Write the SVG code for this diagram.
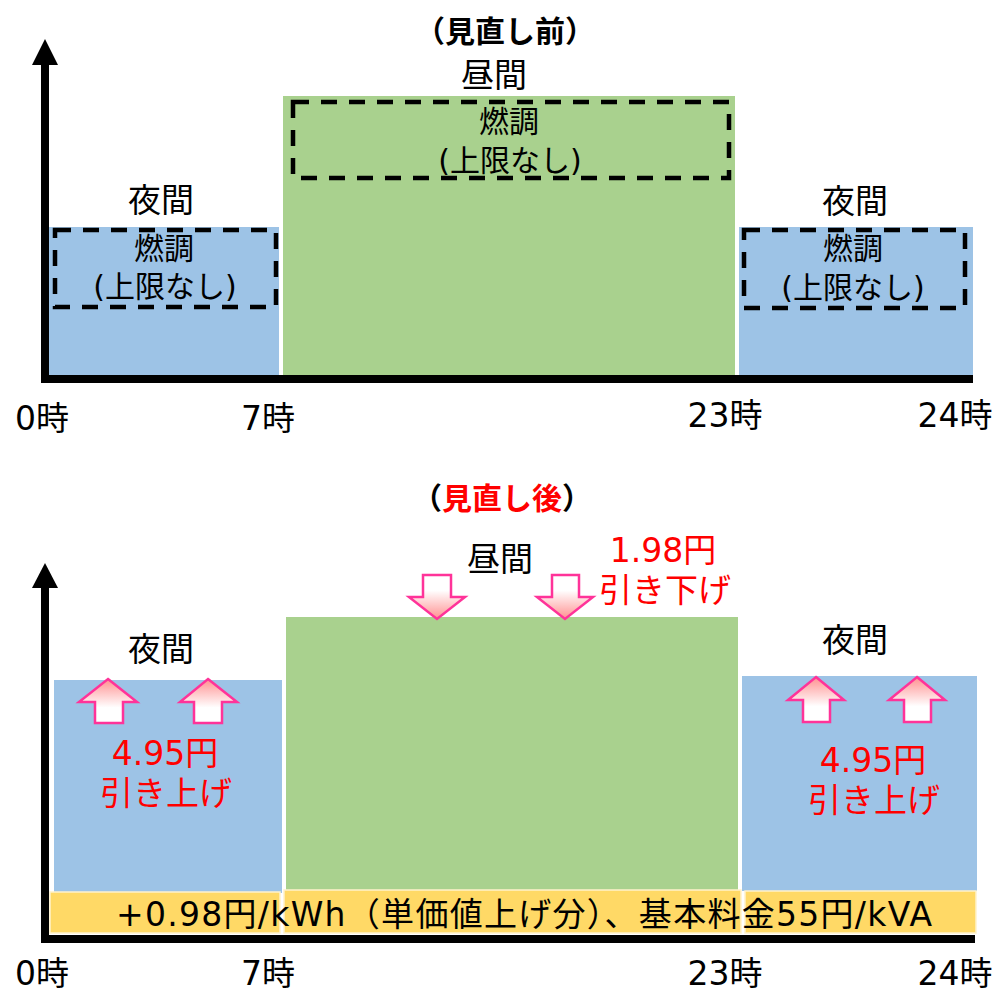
<svg xmlns="http://www.w3.org/2000/svg" width="995" height="994" viewBox="0 0 995 994">
<defs>
<style>
text{font-family:"DejaVu Sans","Noto Sans CJK JP",sans-serif;fill:#000;}
.lbl{font-size:33px;text-anchor:middle;}
.sm{font-size:30px;}
.red{fill:#FF0000;}
.ttl{font-size:30px;font-weight:bold;text-anchor:middle;}
.blue{fill:#9DC3E6;}
.green{fill:#A9D18E;}
.yel{fill:#FFD966;stroke:#FFF2CC;stroke-width:1.5;}
.dash{fill:none;stroke:#000;stroke-width:4.5;stroke-dasharray:16 12;}
.axis{stroke:#000;stroke-width:8;fill:none;}
.up{fill:url(#gUp);stroke:#FF3399;stroke-width:2.5;stroke-linejoin:miter;}
.down{fill:url(#gDown);stroke:#FF3399;stroke-width:2.5;stroke-linejoin:miter;}
</style>
<linearGradient id="gUp" x1="0" y1="0" x2="0" y2="1">
<stop offset="0" stop-color="#FF9090"/>
<stop offset="0.65" stop-color="#FFFFFF"/>
<stop offset="1" stop-color="#FFFFFF"/>
</linearGradient>
<linearGradient id="gDown" x1="0" y1="1" x2="0" y2="0">
<stop offset="0" stop-color="#FF9090"/>
<stop offset="0.65" stop-color="#FFFFFF"/>
<stop offset="1" stop-color="#FFFFFF"/>
</linearGradient>
</defs>
<rect width="995" height="994" fill="#FFFFFF"/>

<!-- Top chart -->
<g id="top-title"><text class="ttl" x="505" y="42">（見直し前）</text></g>
<g id="top-night-left">
<rect class="blue" x="49" y="227" width="230" height="149"/>
<rect class="dash" x="55" y="230" width="221" height="77"/>
<text class="lbl" x="161" y="212">夜間</text>
<text class="lbl sm" x="164" y="259">燃調</text>
<text class="lbl sm" x="165" y="297">(上限なし)</text>
</g>
<g id="top-day">
<rect class="green" x="283" y="96" width="452" height="280"/>
<rect class="dash" x="293" y="102" width="436" height="76"/>
<text class="lbl" x="494" y="87">昼間</text>
<text class="lbl sm" x="509" y="132">燃調</text>
<text class="lbl sm" x="510" y="171">(上限なし)</text>
</g>
<g id="top-night-right">
<rect class="blue" x="739" y="227" width="234" height="149"/>
<rect class="dash" x="744" y="230" width="221" height="78"/>
<text class="lbl" x="855" y="213">夜間</text>
<text class="lbl sm" x="853" y="259">燃調</text>
<text class="lbl sm" x="853" y="298">(上限なし)</text>
</g>
<g id="top-axes">
<line class="axis" x1="45" y1="62" x2="45" y2="383"/>
<polygon points="45,39 58,65 32,65" fill="#000"/>
<line class="axis" x1="41" y1="379" x2="973" y2="379"/>
</g>
<g id="top-ticks">
<text class="lbl" x="42" y="430">0時</text>
<text class="lbl" x="268" y="430">7時</text>
<text class="lbl" x="725" y="427">23時</text>
<text class="lbl" x="955" y="427">24時</text>
</g>

<!-- Bottom chart -->
<g id="bottom-title"><text class="ttl" x="502" y="509">（<tspan class="red">見直し後</tspan>）</text></g>
<g id="bottom-night-left">
<rect class="blue" x="54" y="680" width="228" height="213"/>
<text class="lbl" x="161" y="661">夜間</text>
<text class="lbl red" x="165" y="765">4.95円</text>
<text class="lbl red" x="166" y="805">引き上げ</text>
</g>
<g id="bottom-day">
<rect class="green" x="286" y="617" width="452" height="274"/>
<text class="lbl" x="500" y="571">昼間</text>
<text class="lbl red" x="663" y="562">1.98円</text>
<text class="lbl red" x="665" y="602">引き下げ</text>
</g>
<g id="bottom-night-right">
<rect class="blue" x="742" y="676" width="235" height="215"/>
<text class="lbl" x="855" y="652">夜間</text>
<text class="lbl red" x="873" y="772">4.95円</text>
<text class="lbl red" x="874" y="812">引き上げ</text>
</g>
<g id="bottom-surcharge">
<rect class="yel" x="50" y="892" width="230" height="41"/>
<rect class="yel" x="284" y="890" width="457" height="43"/>
<rect class="yel" x="745" y="891" width="231" height="42"/>
<text x="116" y="926" font-size="33" textLength="816" lengthAdjust="spacing">+0.98円/kWh（単価値上げ分）、基本料金55円/kVA</text>
</g>
<g id="connectors">
<path class="up" d="M108,679 L137,702 L123,702 L123,723 L95,723 L95,702 L79,702 Z"/>
<path class="up" d="M208,679 L237,702 L222,702 L222,723 L194,723 L194,702 L180,702 Z"/>
<path class="up" d="M816,677 L844,700 L830,700 L830,722 L803,722 L803,700 L788,700 Z"/>
<path class="up" d="M917,677 L945,700 L931,700 L931,722 L904,722 L904,700 L889,700 Z"/>
<path class="down" d="M423,575 L451,575 L451,597 L465,597 L437,619 L409,597 L423,597 Z"/>
<path class="down" d="M552,575 L579,575 L579,597 L593,597 L565,619 L537,597 L552,597 Z"/>
</g>
<g id="bottom-axes">
<line class="axis" x1="45" y1="585" x2="45" y2="943"/>
<polygon points="45,563 58,588 32,588" fill="#000"/>
<line class="axis" x1="41" y1="939" x2="975" y2="939"/>
</g>
<g id="bottom-ticks">
<text class="lbl" x="42" y="985">0時</text>
<text class="lbl" x="268" y="985">7時</text>
<text class="lbl" x="725" y="985">23時</text>
<text class="lbl" x="955" y="985">24時</text>
</g>
</svg>
